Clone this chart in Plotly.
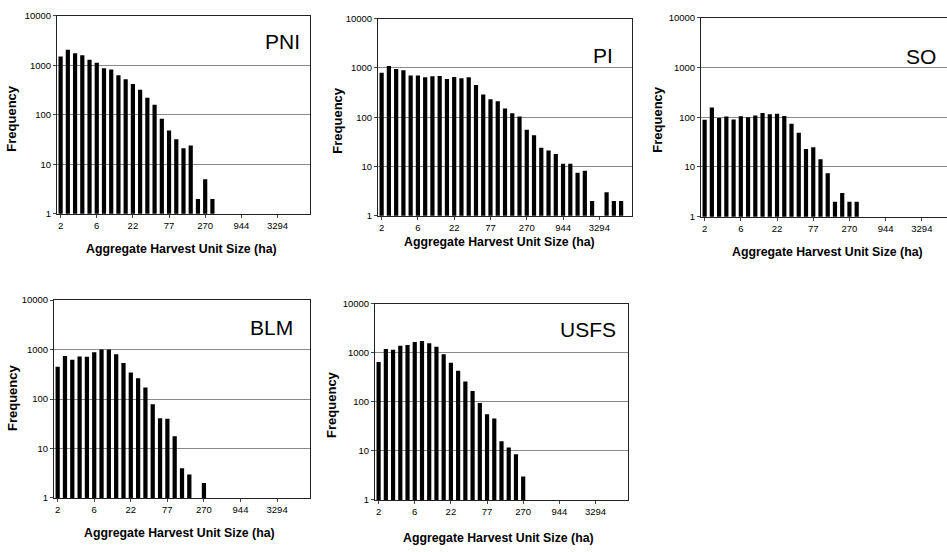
import plotly.graph_objects as go

# ---- data -------------------------------------------------------------
n_bins = 35
bin_index = list(range(n_bins))
tick_bins = [0, 5, 10, 15, 20, 25, 30]
tick_labels = ["2", "6", "22", "77", "270", "944", "3294"]

pni = [1500, 2050, 1750, 1600, 1300, 1120, 870, 820, 630, 525, 420, 320, 220, 160,
       83, 48, 32, 21, 24, 2, 5, 2]
pi = [800, 1100, 950, 900, 700, 700, 650, 680, 690, 600, 660, 620, 650, 450, 290,
      233, 210, 150, 120, 104, 56, 43, 24, 21, 18, 11.3, 11.3, 7.5, 8.2, 2, None, 3, 2, 2]
so = [89, 157, 97, 103, 90, 105, 100, 109, 122, 115, 118, 106, 74, 49, 23, 25, 14.3,
      7.5, 2, 3, 2, 2]
blm = [450, 740, 620, 725, 715, 880, 1000, 1000, 805, 535, 345, 262, 171, 78, 41, 40,
       17.6, 4, 3, None, 2]
usfs = [650, 1200, 1160, 1400, 1450, 1680, 1760, 1580, 1330, 940, 630, 435, 260, 167,
        95, 56, 46, 15.7, 11.7, 8.6, 3]

panels = ["PNI", "PI", "SO", "BLM", "USFS"]
series = [pni, pi, so, blm, usfs]
y_ticks = [1, 10, 100, 1000, 10000]
y_labels = ["1", "10", "100", "1000", "10000"]

# ---- layout geometry (pixels) -----------------------------------------
W, H = 947, 552
# left, right, top, bottom of each plot area
boxes = [(57, 310, 10, 212), (378, 632, 13, 214), (701, 947, 12, 215),
         (54, 310, 300, 502), (375, 628, 304, 504)]
xranges = [[-0.5, 34.5], [-0.5, 34.5], [-0.5, 33.47], [-0.5, 34.5], [-0.5, 34.5]]
label_pos = [(302, 36), (615, 50), (938, 52), (295, 328), (618, 330)]
ytitle_pos = [(12, 115), (338, 117), (658, 116), (12, 400), (332, 407)]
xtitle_pos = [(181, 248), (500, 241), (827, 251), (179, 538), (499, 543)]

FONT = "Liberation Sans, Arial, sans-serif"
fig = go.Figure()
layout = dict(width=W, height=H, margin=dict(l=0, r=0, t=0, b=0),
              paper_bgcolor="white", plot_bgcolor="white", showlegend=False,
              font=dict(family=FONT, color="black"), annotations=[])

for i, (name, vals) in enumerate(zip(panels, series)):
    k = "" if i == 0 else str(i + 1)
    fig.add_trace(go.Bar(x=bin_index[:len(vals)], y=vals, marker=dict(color="black", line=dict(width=0)),
                         width=0.58, xaxis="x" + k, yaxis="y" + k))
    l, r, t, b = boxes[i]
    layout["xaxis" + k] = dict(domain=[l / W, r / W], anchor="y" + k, range=xranges[i],
                               tickmode="array", tickvals=tick_bins, ticktext=tick_labels,
                               showgrid=False, zeroline=False, showline=True, linecolor="#222",
                               linewidth=1, mirror=True, ticks="outside", ticklen=3,
                               tickcolor="#444", tickfont=dict(size=9.5))
    layout["yaxis" + k] = dict(domain=[1 - b / H, 1 - t / H], anchor="x" + k, type="log",
                               range=[0, 4], tickmode="array", tickvals=y_ticks, ticktext=y_labels,
                               showgrid=True, gridcolor="#8a8a8a", gridwidth=1, zeroline=False,
                               showline=True, linecolor="#222", linewidth=1,
                               mirror=(i != 2), ticks="outside", ticklen=3, tickcolor="#444",
                               tickfont=dict(size=9.5))
    lx, ly = label_pos[i]
    layout["annotations"].append(dict(x=lx / W, y=1 - ly / H, xref="paper", yref="paper",
                                      text=name, showarrow=False, xanchor="right", yanchor="middle",
                                      font=dict(size=21, family=FONT)))
    yx, yy = ytitle_pos[i]
    layout["annotations"].append(dict(x=yx / W, y=1 - yy / H, xref="paper", yref="paper",
                                      text="<b>Frequency</b>", showarrow=False, textangle=-90,
                                      xanchor="center", yanchor="middle",
                                      font=dict(size=13, family=FONT)))
    xx, xy = xtitle_pos[i]
    layout["annotations"].append(dict(x=xx / W, y=1 - xy / H, xref="paper", yref="paper",
                                      text="<b>Aggregate Harvest Unit Size (ha)</b>", showarrow=False,
                                      xanchor="center", yanchor="middle",
                                      font=dict(size=12.3, family=FONT)))

fig.update_layout(**layout)
fig.write_html("out.html")
